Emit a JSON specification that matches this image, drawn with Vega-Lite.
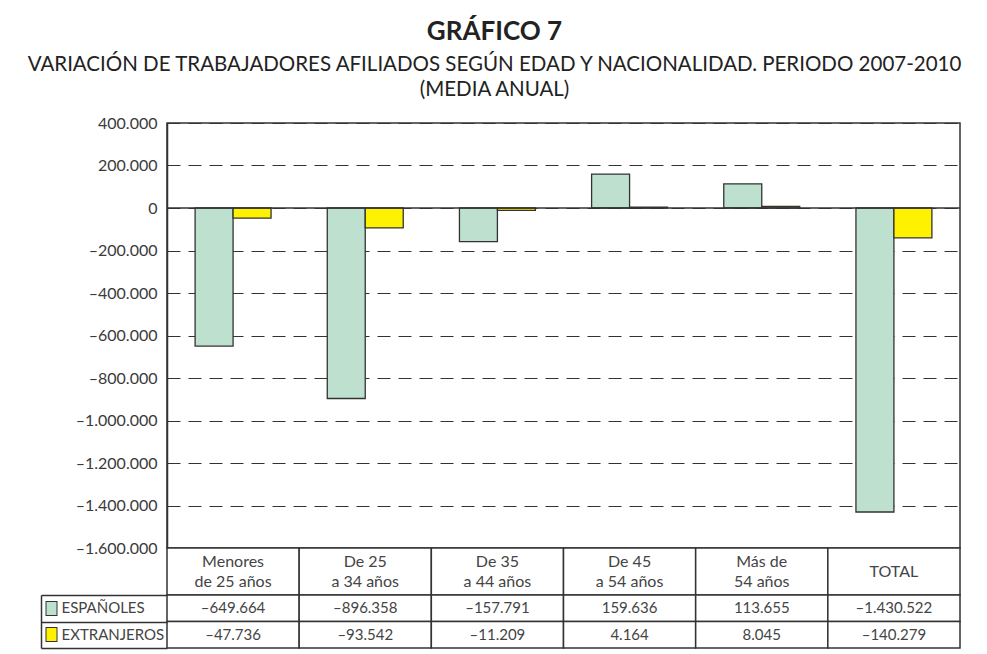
{
  "$schema": "https://vega.github.io/schema/vega-lite/v6.json",
  "background": "white",
  "padding": {"left": 26, "top": 18, "right": 5, "bottom": 5},
  "title": {
    "text": "GRÁFICO 7",
    "subtitle": ["VARIACIÓN DE TRABAJADORES AFILIADOS SEGÚN EDAD Y NACIONALIDAD. PERIODO 2007-2010", "(MEDIA ANUAL)"],
    "anchor": "middle",
    "dx": -5,
    "fontSize": 26,
    "fontWeight": "bold",
    "color": "#222",
    "font": "Lato",
    "subtitleFont": "Lato",
    "subtitleFontSize": 20.5,
    "subtitleColor": "#222",
    "subtitleLineHeight": 25,
    "subtitlePadding": 10,
    "offset": 14
  },
  "datasets": {
    "filas": [
      {"cat": "Menores de 25 años", "serie": "ESPAÑOLES", "valor": -649664},
      {"cat": "Menores de 25 años", "serie": "EXTRANJEROS", "valor": -47736},
      {"cat": "De 25 a 34 años", "serie": "ESPAÑOLES", "valor": -896358},
      {"cat": "De 25 a 34 años", "serie": "EXTRANJEROS", "valor": -93542},
      {"cat": "De 35 a 44 años", "serie": "ESPAÑOLES", "valor": -157791},
      {"cat": "De 35 a 44 años", "serie": "EXTRANJEROS", "valor": -11209},
      {"cat": "De 45 a 54 años", "serie": "ESPAÑOLES", "valor": 159636},
      {"cat": "De 45 a 54 años", "serie": "EXTRANJEROS", "valor": 4164},
      {"cat": "Más de 54 años", "serie": "ESPAÑOLES", "valor": 113655},
      {"cat": "Más de 54 años", "serie": "EXTRANJEROS", "valor": 8045},
      {"cat": "TOTAL", "serie": "ESPAÑOLES", "valor": -1430522},
      {"cat": "TOTAL", "serie": "EXTRANJEROS", "valor": -140279}
    ],
    "cats": [
      {"cat": "Menores de 25 años", "etiqueta": "Menores\nde 25 años"},
      {"cat": "De 25 a 34 años", "etiqueta": "De 25\na 34 años"},
      {"cat": "De 35 a 44 años", "etiqueta": "De 35\na 44 años"},
      {"cat": "De 45 a 54 años", "etiqueta": "De 45\na 54 años"},
      {"cat": "Más de 54 años", "etiqueta": "Más de\n54 años"},
      {"cat": "TOTAL", "etiqueta": "TOTAL"}
    ]
  },
  "config": {
    "font": "Lato",
    "view": {"stroke": null},
    "locale": {
      "number": {"decimal": ",", "thousands": ".", "grouping": [3], "currency": ["", " €"], "minus": "–"}
    }
  },
  "vconcat": [
    {
      "width": 793, "height": 425,
      "view": {"stroke": "#333", "strokeWidth": 1.5},
      "data": {"name": "filas"},
      "layer": [
        {
          "mark": {"type": "bar", "stroke": "#333", "strokeWidth": 1.3},
          "encoding": {
            "x": {"field": "cat", "type": "nominal", "sort": ["Menores de 25 años", "De 25 a 34 años", "De 35 a 44 años", "De 45 a 54 años", "Más de 54 años", "TOTAL"], "scale": {"paddingInner": 0, "paddingOuter": 0}, "axis": null},
            "xOffset": {"field": "serie", "type": "nominal", "sort": ["ESPAÑOLES", "EXTRANJEROS"], "scale": {"paddingInner": 0, "paddingOuter": 0.74}},
            "y": {
              "field": "valor", "type": "quantitative",
              "scale": {"domain": [-1600000, 400000], "nice": false, "zero": false},
              "axis": {
                "values": [-1600000, -1400000, -1200000, -1000000, -800000, -600000, -400000, -200000, 0, 200000, 400000],
                "labelExpr": "replace(format(datum.value, ',d'), '-', '–')",
                "title": null,
                "grid": true, "gridDash": [13, 8], "gridColor": "#333", "gridWidth": 1.2, "gridOpacity": 1,
                "ticks": false,
                "domain": true, "domainColor": "#333", "domainWidth": 1.5,
                "labelFontSize": 16, "labelColor": "#3a3a3a", "labelPadding": 10
              }
            },
            "color": {"field": "serie", "type": "nominal", "scale": {"domain": ["ESPAÑOLES", "EXTRANJEROS"], "range": ["#bde0cf", "#fff200"]}, "legend": null}
          }
        },
        {
          "data": {"values": [{}]},
          "mark": {"type": "rule", "color": "#333", "strokeWidth": 1.5},
          "encoding": {"y": {"datum": 0}}
        }
      ]
    },
    {
      "width": 793, "height": 47,
      "data": {"name": "cats"},
      "layer": [
        {
          "mark": {"type": "bar", "fill": "white", "stroke": "#333", "strokeWidth": 1.5},
          "encoding": {
            "x": {"field": "cat", "type": "nominal", "sort": ["Menores de 25 años", "De 25 a 34 años", "De 35 a 44 años", "De 45 a 54 años", "Más de 54 años", "TOTAL"], "scale": {"paddingInner": 0, "paddingOuter": 0}, "axis": null}
          }
        },
        {
          "mark": {"type": "text", "lineBreak": "\n", "fontSize": 16, "lineHeight": 20, "color": "#444", "dy": {"expr": "indexof(datum.etiqueta, '\\n') >= 0 ? -10 : 0"}},
          "encoding": {
            "x": {"field": "cat", "type": "nominal", "sort": ["Menores de 25 años", "De 25 a 34 años", "De 35 a 44 años", "De 45 a 54 años", "Más de 54 años", "TOTAL"], "scale": {"paddingInner": 0, "paddingOuter": 0}, "axis": null},
            "text": {"field": "etiqueta"}
          }
        }
      ]
    },
    {
      "width": 793, "height": 53,
      "data": {"name": "filas"},
      "layer": [
        {
          "mark": {"type": "bar", "fill": "white", "stroke": "#333", "strokeWidth": 1.5},
          "encoding": {
            "x": {"field": "cat", "type": "nominal", "sort": ["Menores de 25 años", "De 25 a 34 años", "De 35 a 44 años", "De 45 a 54 años", "Más de 54 años", "TOTAL"], "scale": {"paddingInner": 0, "paddingOuter": 0}, "axis": null},
            "y": {"field": "serie", "type": "nominal", "sort": ["ESPAÑOLES", "EXTRANJEROS"], "scale": {"paddingInner": 0, "paddingOuter": 0},
              "axis": {"orient": "left", "title": null, "labelAlign": "left", "labelPadding": 106, "ticks": false, "tickSize": 0, "domain": false, "labelFontSize": 15, "labelColor": "#444", "zindex": 1}}
          }
        },
        {
          "mark": {"type": "text", "fontSize": 15, "color": "#444"},
          "encoding": {
            "x": {"field": "cat", "type": "nominal", "sort": ["Menores de 25 años", "De 25 a 34 años", "De 35 a 44 años", "De 45 a 54 años", "Más de 54 años", "TOTAL"], "scale": {"paddingInner": 0, "paddingOuter": 0}, "axis": null},
            "y": {"field": "serie", "type": "nominal", "sort": ["ESPAÑOLES", "EXTRANJEROS"], "scale": {"paddingInner": 0, "paddingOuter": 0},
              "axis": {"orient": "left", "title": null, "labels": false, "domain": false, "ticks": true, "tickBand": "extent", "tickSize": 126, "tickWidth": 1.5, "tickColor": "#333", "zindex": 1}},
            "text": {"field": "valor", "type": "quantitative", "format": ",d"}
          }
        },
        {
          "mark": {"type": "bar", "opacity": 0},
          "encoding": {
            "x": {"field": "cat", "type": "nominal", "sort": ["Menores de 25 años", "De 25 a 34 años", "De 35 a 44 años", "De 45 a 54 años", "Más de 54 años", "TOTAL"], "scale": {"paddingInner": 0, "paddingOuter": 0}, "axis": null},
            "y": {"field": "serie", "type": "nominal", "sort": ["ESPAÑOLES", "EXTRANJEROS"], "scale": {"paddingInner": 0, "paddingOuter": 0},
              "axis": {"orient": "left", "title": null, "offset": 126, "labels": false, "ticks": false, "domain": true, "domainColor": "#333", "domainWidth": 1.5, "zindex": 1}}
          }
        },
        {
          "mark": {"type": "bar", "opacity": 0},
          "encoding": {
            "x": {"field": "cat", "type": "nominal", "sort": ["Menores de 25 años", "De 25 a 34 años", "De 35 a 44 años", "De 45 a 54 años", "Más de 54 años", "TOTAL"], "scale": {"paddingInner": 0, "paddingOuter": 0}, "axis": null},
            "y": {"field": "serie", "type": "nominal", "sort": ["ESPAÑOLES", "EXTRANJEROS"], "scale": {"paddingInner": 0, "paddingOuter": 0},
              "axis": {"orient": "left", "title": null, "offset": 110, "labels": false, "domain": false, "ticks": true, "tickSize": 12, "tickWidth": 15, "tickColor": "#333", "zindex": 2}}
          }
        },
        {
          "mark": {"type": "bar", "opacity": 0},
          "encoding": {
            "x": {"field": "cat", "type": "nominal", "sort": ["Menores de 25 años", "De 25 a 34 años", "De 35 a 44 años", "De 45 a 54 años", "Más de 54 años", "TOTAL"], "scale": {"paddingInner": 0, "paddingOuter": 0}, "axis": null},
            "y": {"field": "serie", "type": "nominal", "sort": ["ESPAÑOLES", "EXTRANJEROS"], "scale": {"paddingInner": 0, "paddingOuter": 0},
              "axis": {"orient": "left", "title": null, "offset": 111, "labels": false, "domain": false, "ticks": true, "tickSize": 10, "tickWidth": 13,
                "tickColor": {"condition": {"test": "datum.value === 'ESPAÑOLES'", "value": "#bde0cf"}, "value": "#fff200"}, "zindex": 3}}
          }
        }
      ],
      "resolve": {"axis": {"y": "independent"}}
    }
  ],
  "spacing": 0,
  "bounds": "flush"
}
